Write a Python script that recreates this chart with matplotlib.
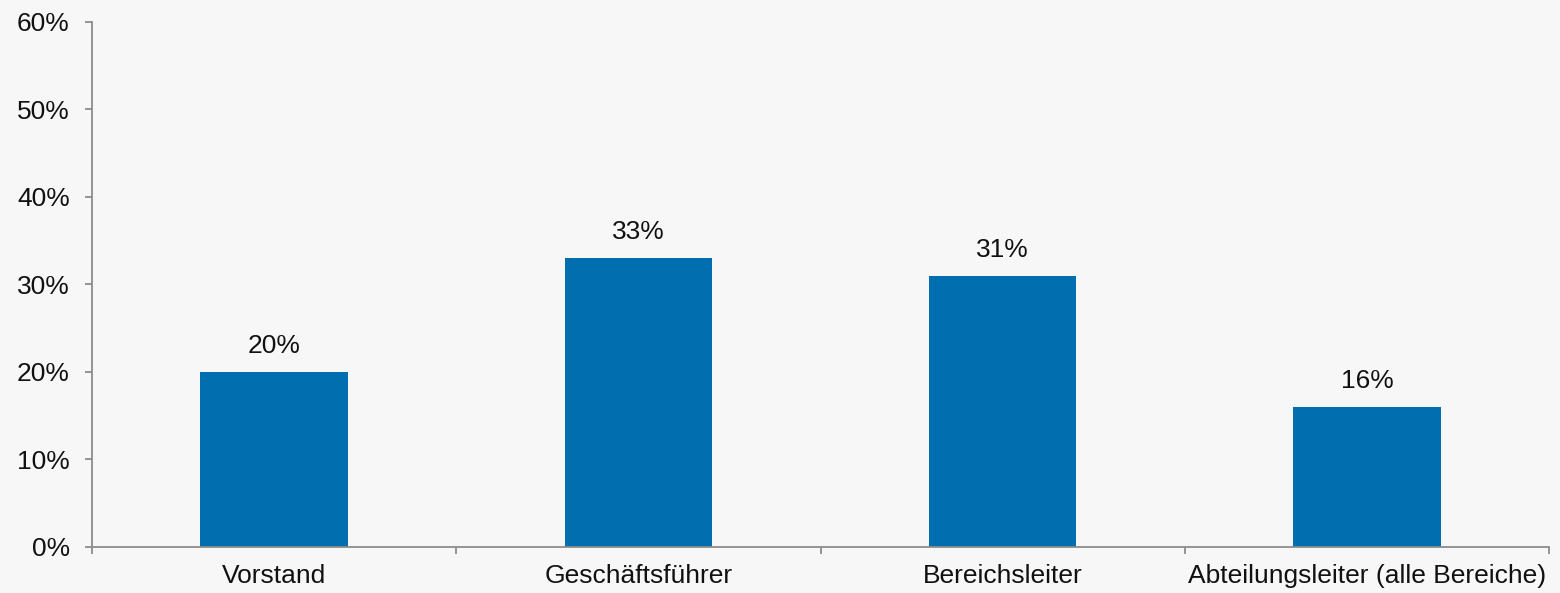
import matplotlib.pyplot as plt
import numpy as np

categories = ['Vorstand', 'Geschäftsführer', 'Bereichsleiter', 'Abteilungsleiter (alle Bereiche)']
shares = [20, 33, 31, 16]
y_ticks = [0, 10, 20, 30, 40, 50, 60]

bar_color = '#006eaf'
axis_color = '#8c8c8c'
bg = '#f7f7f7'

plt.rcParams['font.family'] = ['Liberation Sans', 'DejaVu Sans']

fig = plt.figure(figsize=(15.6, 5.93), dpi=100, facecolor=bg)
ax = fig.add_axes([0.059, 0.0776, 0.934, 0.8854], facecolor=bg)

x = np.arange(len(categories))
bars = ax.bar(x, shares, width=0.405, color=bar_color, zorder=2)

for xi, v in zip(x, shares):
    ax.annotate(f'{v}%', (xi, v), xytext=(0, 10), textcoords='offset points',
                ha='center', va='bottom', fontsize=19, color='#111111')

ax.set_xlim(-0.5, len(categories) - 0.5)
ax.set_ylim(0, 60)
ax.set_yticks(y_ticks)
ax.set_yticklabels([f'{t}%' for t in y_ticks])

# labels sit at category centres, tick marks at the boundaries
ax.set_xticks(x)
ax.set_xticklabels(categories)
ax.set_xticks(np.arange(len(categories) + 1) - 0.5, minor=True)
ax.tick_params(axis='x', which='major', length=0, pad=12, labelsize=19, labelcolor='#111111')
ax.tick_params(axis='x', which='minor', length=5, width=1.3, color=axis_color, direction='out')
ax.tick_params(axis='y', length=5, width=1.3, color=axis_color, pad=11, labelsize=19, labelcolor='#111111')

for side in ['top', 'right']:
    ax.spines[side].set_visible(False)
for side in ['left', 'bottom']:
    ax.spines[side].set_color(axis_color)
    ax.spines[side].set_linewidth(1.3)

fig.savefig('out.png', dpi=100, facecolor=bg)
